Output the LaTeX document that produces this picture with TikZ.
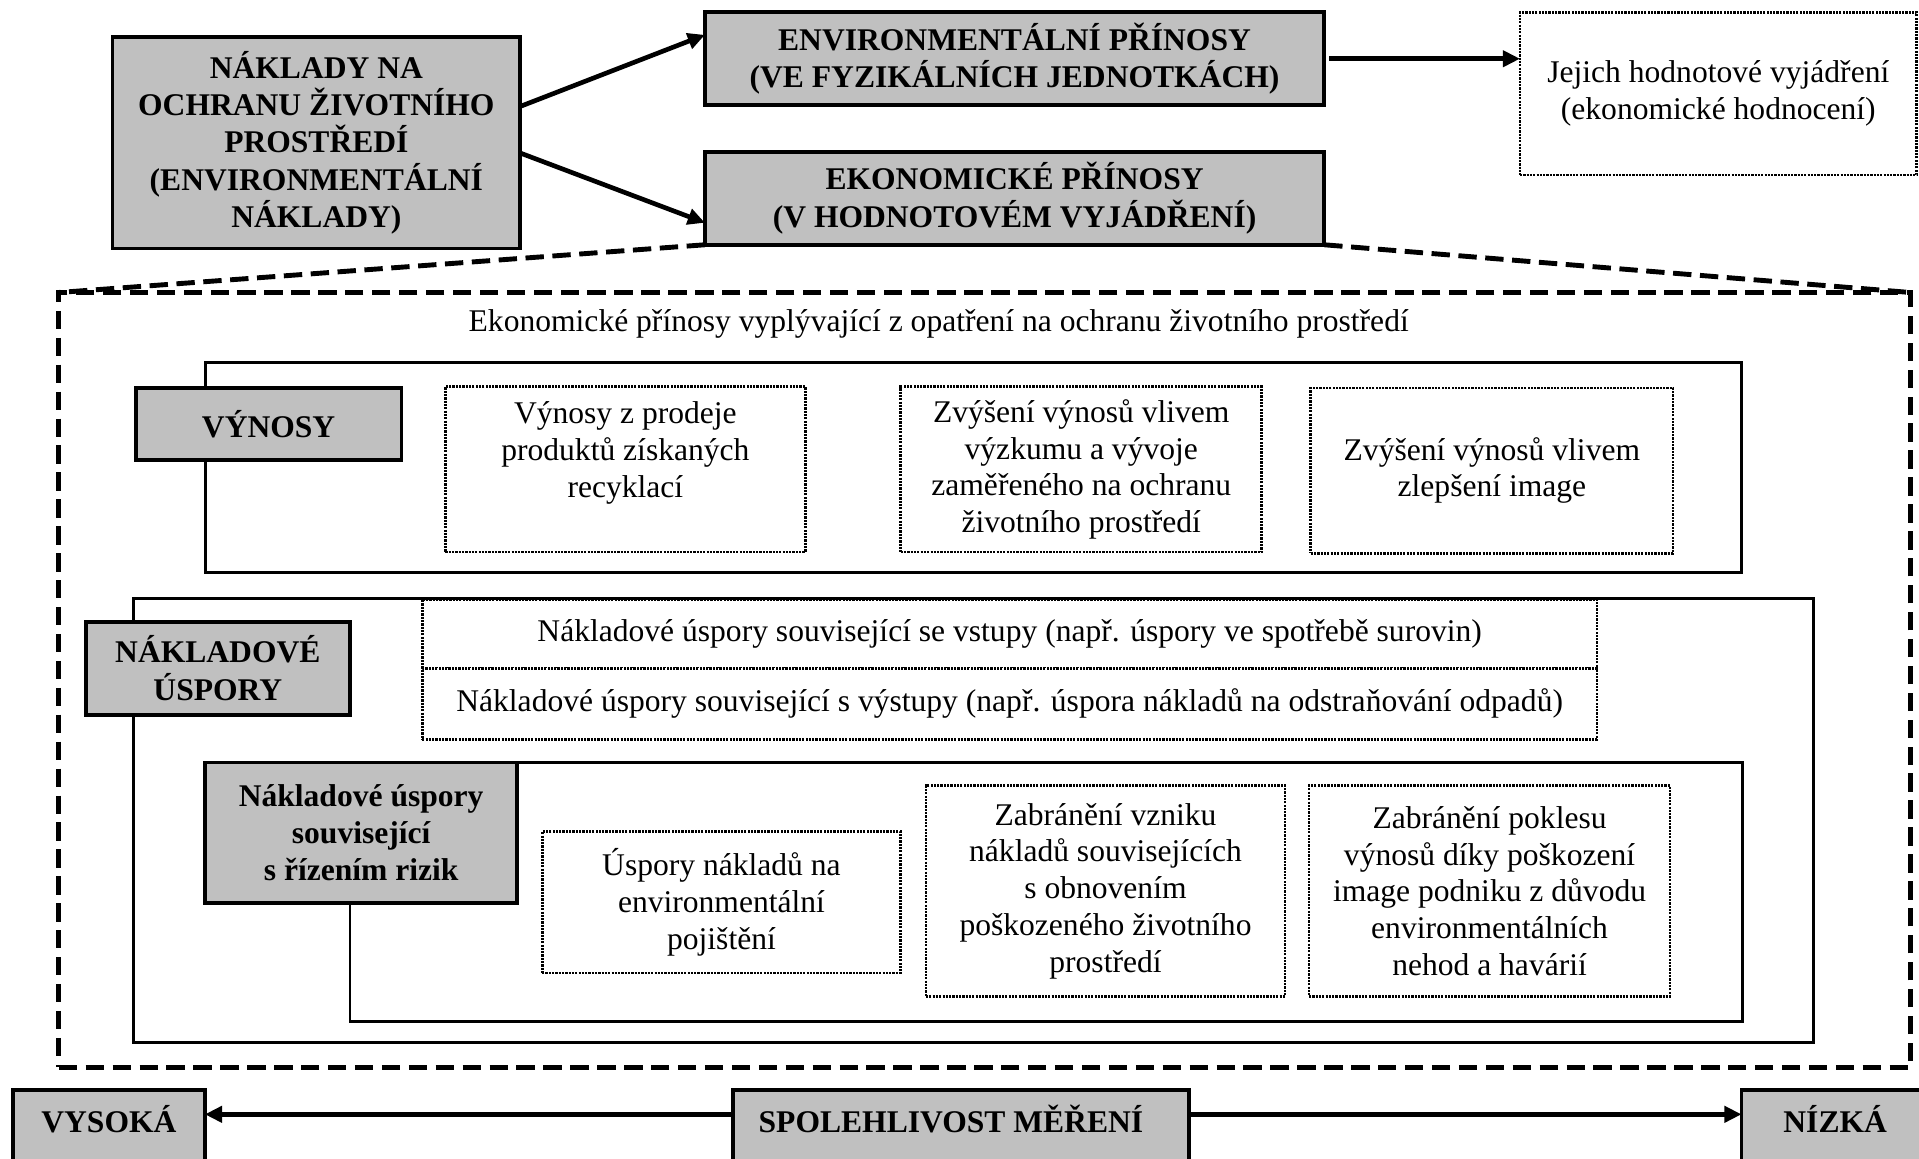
\documentclass[tikz,border=0pt]{standalone}
\usepackage{fontspec}
\setmainfont{Liberation Serif}
\usetikzlibrary{arrows.meta}
\definecolor{boxgray}{RGB}{192,192,192}
\begin{document}
\begin{tikzpicture}[x=1pt,y=-1pt,
  every node/.style={inner sep=0pt, outer sep=0pt, align=center,
    font=\fontsize{25.8}{30}\selectfont},
  txt/.style={font=\fontsize{25.8}{30}\selectfont},
  boldtxt/.style={font=\fontsize{25.8}{30.5}\selectfont\bfseries},
  graybox/.style={draw, fill=boxgray, line width=3pt, anchor=north west},
  framebox/.style={draw, line width=2.4pt, anchor=north west},
  dotbox/.style={draw, fill=white, line width=2.2pt, dash pattern=on 1.8pt off 0.9pt, anchor=north west},
  bigdash/.style={line width=4pt, dash pattern=on 15pt off 7pt},
  arr/.style={line width=3.8pt, -{Triangle[length=14pt,width=13pt]}},
]
\clip (0,0) rectangle (1568,947);
\fill[white] (0,0) rectangle (1568,947);

% --- top row: costs and benefits ---
\node[graybox, boldtxt, minimum width=333pt, minimum height=173pt] (nakl) at (92,30)
  {NÁKLADY NA\\OCHRANU ŽIVOTNÍHO\\PROSTŘEDÍ\\(ENVIRONMENTÁLNÍ\\NÁKLADY)};
\node[graybox, boldtxt, minimum width=506pt, minimum height=76pt] (env) at (576,10)
  {ENVIRONMENTÁLNÍ PŘÍNOSY\\(VE FYZIKÁLNÍCH JEDNOTKÁCH)};
\node[graybox, boldtxt, minimum width=506pt, minimum height=76pt] (ekon) at (576,124)
  {EKONOMICKÉ PŘÍNOSY\\(V HODNOTOVÉM VYJÁDŘENÍ)};
\node[dotbox, txt, minimum width=324pt, minimum height=133pt] (value) at (1242,10)
  {Jejich hodnotové vyjádření\\(ekonomické hodnocení)};

\draw[arr] ([yshift=29.5pt]nakl.east) -- ([yshift=19.5pt]env.west);
\draw[arr] ([yshift=-8.5pt]nakl.east) -- ([yshift=-20pt]ekon.west);
\draw[arr] ([xshift=4pt]env.east) -- (env.east -| value.west);

% --- dashed detail of economic benefits ---
\node[draw, bigdash, anchor=north west, minimum width=1513pt, minimum height=633pt] (outer) at (48,239) {};
\draw[bigdash] (ekon.south west) -- (outer.north west);
\draw[bigdash] (ekon.south east) -- (outer.north east);
\node[txt, anchor=base] (title) at (767,271)
  {Ekonomické přínosy vyplývající z opatření na ochranu životního prostředí};

% revenues
\node[framebox, minimum width=1255pt, minimum height=172pt] (vynframe) at (168,296) {};
\node[graybox, boldtxt, minimum width=217pt, minimum height=59pt] (vyn) at (111,317) {VÝNOSY};
\node[dotbox, minimum width=294pt, minimum height=135pt] (va) at (364,316) {};
\node[txt] (vatext) at (511,370) {Výnosy z prodeje\\produktů získaných\\recyklací};
\node[dotbox, txt, minimum width=295pt, minimum height=135pt] (vb) at (736,316)
  {Zvýšení výnosů vlivem\\výzkumu a vývoje\\zaměřeného na ochranu\\životního prostředí};
\node[dotbox, txt, minimum width=296pt, minimum height=135pt] (vc) at (1071,317)
  {Zvýšení výnosů vlivem\\zlepšení image};

% cost savings
\node[framebox, minimum width=1373pt, minimum height=363pt] (uspframe) at (109,489) {};
\node[graybox, boldtxt, minimum width=216pt, minimum height=76pt] (usp) at (70,508) {NÁKLADOVÉ\\ÚSPORY};
\node[dotbox, txt, minimum width=960pt, minimum height=56pt] (row1) at (345,490)
  {Nákladové úspory související se vstupy (např. úspory ve spotřebě surovin)};
\node[dotbox, txt, minimum width=960pt, minimum height=58pt] (row2) at (345,546)
  {Nákladové úspory související s výstupy (např. úspora nákladů na odstraňování odpadů)};

% risk management savings
\node[framebox, minimum width=1138pt, minimum height=212pt] (riskframe) at (286,623) {};
\node[graybox, boldtxt, minimum width=255pt, minimum height=115pt] (risk) at (167.6,623)
  {Nákladové úspory\\související\\s řízením rizik};
\node[dotbox, txt, minimum width=293pt, minimum height=115.5pt] (rd) at (443,679.5)
  {Úspory nákladů na\\environmentální\\pojištění};
\node[dotbox, txt, minimum width=293.4pt, minimum height=172pt] (re) at (756.6,642)
  {Zabránění vzniku\\nákladů souvisejících\\s obnovením\\poškozeného životního\\prostředí};
\node[dotbox, txt, minimum width=295pt, minimum height=172pt] (rf) at (1069.6,642)
  {Zabránění poklesu\\výnosů díky poškození\\image podniku z důvodu\\environmentálních\\nehod a havárií};

% --- bottom: reliability of measurement ---
\node[graybox, minimum width=157pt, minimum height=80pt] (vys) at (10.4,890.6) {};
\node[graybox, minimum width=372.6pt, minimum height=80pt] (spol) at (599,890.6) {};
\node[graybox, minimum width=170pt, minimum height=80pt] (niz) at (1423,890.6) {};
\node[boldtxt, anchor=base] (vystext) at (89,925) {VYSOKÁ};
\node[boldtxt, anchor=base] (spoltext) at (777,925) {SPOLEHLIVOST MĚŘENÍ};
\node[boldtxt, anchor=base] (niztext) at (1499.5,925) {NÍZKÁ};
\coordinate (arrowrow) at (0,910.5);
\draw[arr] (spol.west |- arrowrow) -- (vys.east |- arrowrow);
\draw[arr] (spol.east |- arrowrow) -- (niz.west |- arrowrow);
\end{tikzpicture}
\end{document}
